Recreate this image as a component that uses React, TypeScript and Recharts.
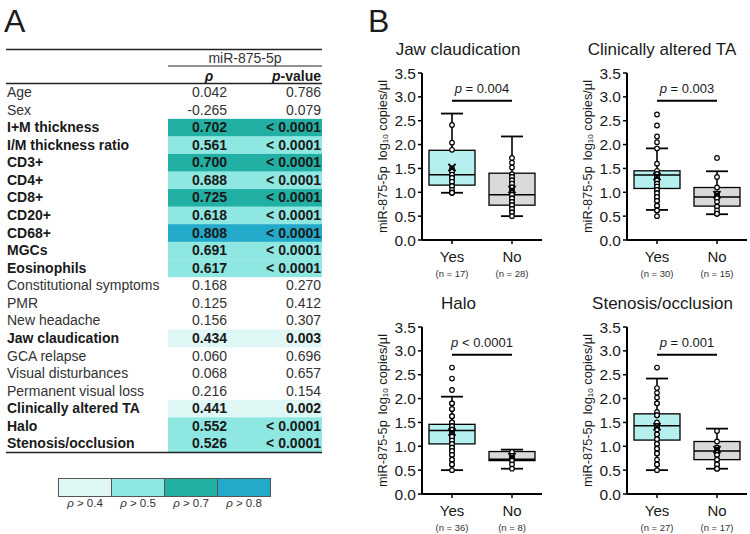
import { ComposedChart, Bar, Scatter, XAxis, YAxis, ReferenceLine } from 'recharts';

const FONT = '"Liberation Sans", Arial, Helvetica, sans-serif';
const INK = '#1a1a1a';

// ---- panel A: correlation table ----
const rowLabels = [
  'Age', 'Sex', 'I+M thickness', 'I/M thickness ratio', 'CD3+', 'CD4+', 'CD8+', 'CD20+', 'CD68+',
  'MGCs', 'Eosinophils', 'Constitutional symptoms', 'PMR', 'New headache', 'Jaw claudication',
  'GCA relapse', 'Visual disturbances', 'Permanent visual loss', 'Clinically altered TA', 'Halo',
  'Stenosis/occlusion',
];
const rhoValues = [
  0.042, -0.265, 0.702, 0.561, 0.7, 0.688, 0.725, 0.618, 0.808, 0.691, 0.617, 0.168, 0.125, 0.156,
  0.434, 0.06, 0.068, 0.216, 0.441, 0.552, 0.526,
];
const pValues = [
  '0.786', '0.079', '< 0.0001', '< 0.0001', '< 0.0001', '< 0.0001', '< 0.0001', '< 0.0001',
  '< 0.0001', '< 0.0001', '< 0.0001', '0.270', '0.412', '0.307', '0.003', '0.696', '0.657',
  '0.154', '0.002', '< 0.0001', '< 0.0001',
];
const legendThresholds = [0.4, 0.5, 0.7, 0.8];
const legendColors = ['#dff7f5', '#8fe7e1', '#22b0a5', '#23a9ca'];

// ---- panel B: box plots ----
const groups = ['Yes', 'No'];
const yTicks = [0, 0.5, 1, 1.5, 2, 2.5, 3, 3.5];

// stats rows: low whisker, q1, median, q3, high whisker, mean
const jawStats = [[0.99, 1.15, 1.37, 1.88, 2.65, 1.52], [0.5, 0.73, 0.95, 1.4, 2.17, 1.06]];
const jawN = [17, 28];
const jawYes = [2.41, 2.04, 1.89, 1.5, 1.43, 1.37, 1.3, 1.3, 1.22, 1.22, 1.13, 1.13, 1.13, 1.05, 0.99, 0.99, 0.99];
const jawNo = [
  1.72, 1.62, 1.52, 1.38, 1.32, 1.32, 1.25, 1.25, 1.18, 1.18, 1.1, 1.1, 1.02, 1.02, 0.95, 0.95,
  0.95, 0.87, 0.87, 0.8, 0.8, 0.73, 0.73, 0.65, 0.65, 0.58, 0.58, 0.5,
];

const clinStats = [[0.63, 1.08, 1.36, 1.45, 1.92, 1.33], [0.54, 0.71, 0.9, 1.1, 1.44, 0.95]];
const clinN = [30, 15];
const clinYes = [
  2.63, 2.4, 2.17, 2.05, 1.92, 1.6, 1.45, 1.38, 1.38, 1.32, 1.32, 1.25, 1.25, 1.18, 1.18, 1.12,
  1.12, 1.05, 1.05, 0.98, 0.98, 0.9, 0.9, 0.82, 0.82, 0.72, 0.72, 0.62, 0.62, 0.5,
];
const clinNo = [1.72, 1.32, 1.1, 0.97, 0.97, 0.93, 0.93, 0.88, 0.88, 0.8, 0.7, 0.7, 0.62, 0.55, 0.55];

const haloStats = [[0.5, 1.05, 1.33, 1.46, 2.04, 1.3], [0.53, 0.7, 0.73, 0.89, 0.93, 0.78]];
const haloN = [36, 8];
const haloYes = [
  2.65, 2.42, 2.18, 1.9, 1.78, 1.78, 1.63, 1.5, 1.5, 1.42, 1.42, 1.35, 1.35, 1.35, 1.28, 1.28,
  1.2, 1.2, 1.2, 1.12, 1.12, 1.05, 1.05, 0.97, 0.97, 0.9, 0.9, 0.82, 0.82, 0.72, 0.72, 0.62, 0.62,
  0.5, 1.63, 1.9,
];
const haloNo = [0.88, 0.8, 0.8, 0.75, 0.7, 0.7, 0.62, 0.53];

const stenStats = [[0.5, 1.13, 1.43, 1.68, 2.42, 1.41], [0.53, 0.72, 0.9, 1.1, 1.37, 0.93]];
const stenN = [27, 17];
const stenYes = [
  2.65, 2.22, 2.12, 2.02, 1.9, 1.72, 1.65, 1.65, 1.5, 1.42, 1.42, 1.35, 1.25, 1.25, 1.15, 1.15,
  1.05, 1.05, 0.95, 0.95, 0.85, 0.85, 0.72, 0.62, 0.62, 0.5, 1.9,
];
const stenNo = [1.32, 1.1, 0.97, 0.97, 0.93, 0.93, 0.9, 0.9, 0.9, 0.82, 0.82, 0.72, 0.72, 0.62, 0.62, 0.53, 0.53];

const boxFills = ['#b6f0ee', '#d9d9d9'];

function rhoLevel(r: number) {
  if (r >= 0.8) return 4;
  if (r >= 0.7) return 3;
  if (r >= 0.5) return 2;
  if (r >= 0.4) return 1;
  return 0;
}

const ROW_TOP = 83.7;
const ROW_H = 17.56;

function TablePanel() {
  return (
    <g>
      <text x={4} y={32} fontSize={32} fill={INK}>A</text>
      <line x1={6} x2={322} y1={49.5} y2={49.5} stroke="#222" strokeWidth={1.4} />
      <text x={245} y={62.5} textAnchor="middle" fontSize={14} fill="#333">miR-875-5p</text>
      <line x1={168} x2={322} y1={66} y2={66} stroke="#222" strokeWidth={1.1} />
      <text x={209} y={80.5} textAnchor="middle" fontSize={14} fontWeight="bold" fontStyle="italic" fill={INK}>ρ</text>
      <text x={321} y={80.5} textAnchor="end" fontSize={14} fontWeight="bold" fill={INK}>
        <tspan fontStyle="italic">p</tspan>-value
      </text>
      <line x1={6} x2={322} y1={83.5} y2={83.5} stroke="#222" strokeWidth={1.4} />
      {rowLabels.map((label, i) => {
        const lvl = rhoLevel(rhoValues[i]);
        const top = ROW_TOP + i * ROW_H;
        const base = top + 13.4;
        const bold = lvl > 0;
        const col = bold ? INK : '#333';
        return (
          <g key={label}>
            {lvl > 0 && (
              <rect x={168} y={top} width={154} height={ROW_H + 0.3} fill={legendColors[lvl - 1]} />
            )}
            <text x={7} y={base} fontSize={14} fontWeight={bold ? 'bold' : 'normal'} fill={col}>{label}</text>
            <text x={227} y={base} fontSize={14} textAnchor="end" fontWeight={bold ? 'bold' : 'normal'} fill={col}>
              {rhoValues[i].toFixed(3)}
            </text>
            <text x={321} y={base} fontSize={14} textAnchor="end" fontWeight={bold ? 'bold' : 'normal'} fill={col}>
              {pValues[i]}
            </text>
          </g>
        );
      })}
      <line x1={6} x2={322} y1={452.5} y2={452.5} stroke="#222" strokeWidth={1.4} />
      {legendThresholds.map((t, j) => (
        <g key={t}>
          <rect x={58.5 + j * 53} y={478.5} width={53} height={18} fill={legendColors[j]} stroke="#555" strokeWidth={1} />
          <text x={85 + j * 53} y={507} textAnchor="middle" fontSize={11.5} fill="#333">
            <tspan fontStyle="italic">ρ</tspan> {'>'} {t.toFixed(1)}
          </text>
        </g>
      ))}
    </g>
  );
}

function BoxShape(props: any) {
  const { x, y, width, height, payload } = props;
  if (!payload || height == null) return null;
  const k = height / (payload.hi - payload.lo);
  const yOf = (v: number) => y + (payload.hi - v) * k;
  const cx = x + width / 2;
  const cap = 11;
  const fill = payload.g === 'Yes' ? boxFills[0] : boxFills[1];
  return (
    <g>
      <line x1={cx} x2={cx} y1={yOf(payload.hi)} y2={yOf(payload.lo)} stroke="#000" strokeWidth={1.6} />
      <line x1={cx - cap} x2={cx + cap} y1={yOf(payload.hi)} y2={yOf(payload.hi)} stroke="#000" strokeWidth={1.8} />
      <line x1={cx - cap} x2={cx + cap} y1={yOf(payload.lo)} y2={yOf(payload.lo)} stroke="#000" strokeWidth={1.8} />
      <rect x={x} y={yOf(payload.q3)} width={width} height={yOf(payload.q1) - yOf(payload.q3)} fill={fill} stroke="#000" strokeWidth={1.3} />
      <line x1={x} x2={x + width} y1={yOf(payload.med)} y2={yOf(payload.med)} stroke="#000" strokeWidth={1.5} />
    </g>
  );
}

function PointShape(props: any) {
  const { cx, cy } = props;
  if (cx == null || cy == null) return null;
  return <circle cx={cx} cy={cy} r={2.3} fill="#fff" stroke="#000" strokeWidth={1.2} />;
}

function MeanShape(props: any) {
  const { cx, cy } = props;
  if (cx == null || cy == null) return null;
  const s = 3.6;
  return (
    <g stroke="#000" strokeWidth={1.8}>
      <line x1={cx - s} y1={cy - s} x2={cx + s} y2={cy + s} />
      <line x1={cx - s} y1={cy + s} x2={cx + s} y2={cy - s} />
    </g>
  );
}

function XTick(props: any) {
  const { x, y, payload, index, ns } = props;
  return (
    <g>
      <text x={x} y={y + 16} textAnchor="middle" fontSize={15} fill={INK}>{payload.value}</text>
      <text x={x} y={y + 31} textAnchor="middle" fontSize={9.5} fill="#333">{`(n = ${ns[index]})`}</text>
    </g>
  );
}

function YLabel(props: any) {
  const vb = props.viewBox || {};
  const cx = vb.x ?? 40;
  const cy = (vb.y ?? 12) + (vb.height ?? 167) / 2;
  return (
    <text x={cx} y={cy} transform={`rotate(-90, ${cx}, ${cy})`} textAnchor="middle" dominantBaseline="central" fontSize={12.8} fill={INK}>
      miR-875-5p
      <tspan dx={6}>log</tspan>
      <tspan fontSize={8} dy={3}>10</tspan>
      <tspan dy={-3}> copies/µl</tspan>
    </text>
  );
}

function PLabel(props: any) {
  const vb = props.viewBox || {};
  const cx = (vb.x ?? 0) + (vb.width ?? 0) / 2;
  return (
    <text x={cx} y={(vb.y ?? 0) - 8} textAnchor="middle" fontSize={13} fill={INK}>
      <tspan fontStyle="italic">p</tspan> {props.text}
    </text>
  );
}

interface BoxPlotProps {
  stats: number[][];
  yes: number[];
  no: number[];
  ns: number[];
  pText: string;
  left: number;
  top: number;
}

function BoxPlot({ stats, yes, no, ns, pText, left, top }: BoxPlotProps) {
  const boxData = groups.map((g, i) => ({
    g,
    lo: stats[i][0],
    q1: stats[i][1],
    med: stats[i][2],
    q3: stats[i][3],
    hi: stats[i][4],
  }));
  const pointData = [...yes.map(v => ({ g: 'Yes', v })), ...no.map(v => ({ g: 'No', v }))];
  const meanData = groups.map((g, i) => ({ g, v: stats[i][5] }));

  return (
    <div style={{ position: 'absolute', left, top }}>
      <ComposedChart width={200} height={230} data={boxData} margin={{ top: 12, right: 0, bottom: 0, left: 40 }}>
        <XAxis
          dataKey="g"
          type="category"
          allowDuplicatedCategory={false}
          height={51}
          interval={0}
          tickSize={4}
          axisLine={{ stroke: '#000', strokeWidth: 2 }}
          tickLine={{ stroke: '#000', strokeWidth: 1.5 }}
          tick={<XTick ns={ns} />}
        />
        <YAxis
          type="number"
          domain={[0, 3.5]}
          ticks={yTicks}
          width={40}
          tickSize={4}
          interval={0}
          axisLine={{ stroke: '#000', strokeWidth: 2 }}
          tickLine={{ stroke: '#000', strokeWidth: 1.5 }}
          tick={{ fill: INK, fontSize: 15.5 }}
          tickFormatter={(v: number) => v.toFixed(1)}
          label={<YLabel />}
        />
        <Bar dataKey={(d: any) => [d.lo, d.hi]} barSize={46} shape={<BoxShape />} isAnimationActive={false} />
        <Scatter data={pointData} dataKey="v" shape={<PointShape />} isAnimationActive={false} />
        <Scatter data={meanData} dataKey="v" shape={<MeanShape />} isAnimationActive={false} />
        <ReferenceLine
          segment={[{ x: 'Yes', y: 2.92 }, { x: 'No', y: 2.92 }]}
          stroke="#000"
          strokeWidth={2}
          label={<PLabel text={pText} />}
        />
      </ComposedChart>
    </div>
  );
}

const titles = [
  { text: 'Jaw claudication', x: 458, y: 54.5 },
  { text: 'Clinically altered TA', x: 662, y: 54.5 },
  { text: 'Halo', x: 458.5, y: 308.5 },
  { text: 'Stenosis/occlusion', x: 662.5, y: 308.5 },
];

export default function App() {
  return (
    <div
      style={{
        position: 'absolute',
        left: 0,
        top: 0,
        width: 750,
        height: 534,
        overflow: 'hidden',
        background: '#fff',
        fontFamily: FONT,
      }}
    >
      <svg width={750} height={534} style={{ position: 'absolute', left: 0, top: 0 }}>
        <TablePanel />
        <text x={368} y={32} fontSize={32} fill={INK}>B</text>
        {titles.map(t => (
          <text key={t.text} x={t.x} y={t.y} textAnchor="middle" fontSize={17} fill={INK}>{t.text}</text>
        ))}
      </svg>
      <BoxPlot stats={jawStats} yes={jawYes} no={jawNo} ns={jawN} pText="= 0.004" left={342} top={60.5} />
      <BoxPlot stats={clinStats} yes={clinYes} no={clinNo} ns={clinN} pText="= 0.003" left={547} top={60.5} />
      <BoxPlot stats={haloStats} yes={haloYes} no={haloNo} ns={haloN} pText="< 0.0001" left={342} top={314.5} />
      <BoxPlot stats={stenStats} yes={stenYes} no={stenNo} ns={stenN} pText="= 0.001" left={547} top={314.5} />
    </div>
  );
}
